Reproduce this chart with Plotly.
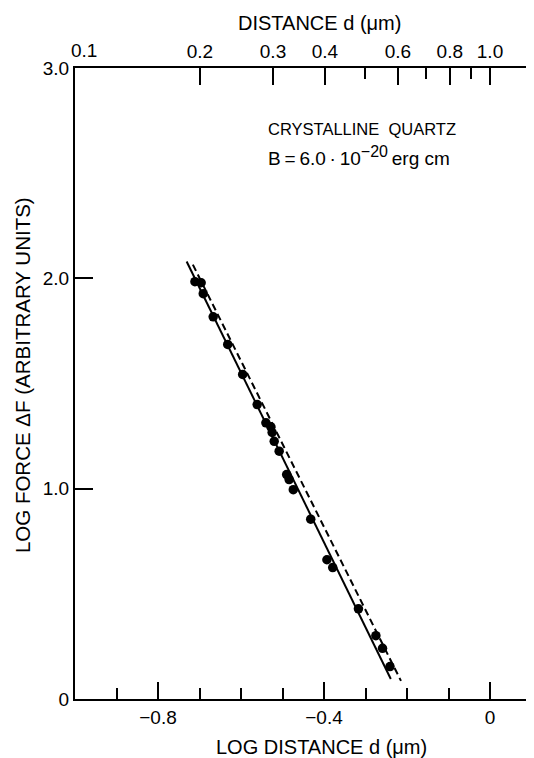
import math
import plotly.graph_objects as go

# ---- data ----
log_d = [-0.711, -0.696, -0.691, -0.667, -0.632, -0.596, -0.561, -0.540, -0.528,
         -0.525, -0.520, -0.508, -0.490, -0.484, -0.474, -0.432, -0.393, -0.379,
         -0.317, -0.275, -0.259, -0.241]
log_f = [1.984, 1.979, 1.927, 1.817, 1.686, 1.543, 1.400, 1.313, 1.294,
         1.267, 1.225, 1.178, 1.067, 1.043, 0.995, 0.855, 0.662, 0.625,
         0.429, 0.301, 0.241, 0.154]

solid_x = [-0.731, -0.239]
solid_y = [2.08, 0.095]
dashed_x = [-0.716, -0.2145]
dashed_y = [2.065, 0.086]

bottom_major = [-0.8, -0.4, 0.0]
bottom_major_text = ["\u22120.8", "\u22120.4", "0"]
bottom_minor = [-0.9, -0.7, -0.6, -0.5, -0.3, -0.2, -0.1, 0.1]

top_major = [0.2, 0.3, 0.4, 0.6, 0.8, 1.0]
top_major_text = ["0.2", "0.3", "0.4", "0.6", "0.8", "1.0"]
top_minor = [0.5, 0.7, 0.9]
top_first = 0.1
top_first_text = "0.1"
top_limits = [0.1, 1.0]

y_ticks = [0, 1, 2, 3]
y_tick_text = ["0", "1.0", "2.0", "3.0"]

FONT = "Liberation Sans, Arial, sans-serif"
X_RANGE = [-1.0, 0.106]
TICKFONT = dict(family=FONT, size=19, color="black")
TITLEFONT = dict(family=FONT, size=20, color="black")

fig = go.Figure()

fig.add_trace(go.Scatter(x=solid_x, y=solid_y, mode="lines",
                         line=dict(color="black", width=2), hoverinfo="skip"))
fig.add_trace(go.Scatter(x=dashed_x, y=dashed_y, mode="lines",
                         line=dict(color="black", width=2, dash="7px,4px"),
                         hoverinfo="skip"))
fig.add_trace(go.Scatter(x=log_d, y=log_f, mode="markers",
                         marker=dict(color="black", size=9.5)))
# invisible trace so the top (log) axis is drawn
fig.add_trace(go.Scatter(x=top_limits, y=[0, 0], xaxis="x2", mode="markers",
                         marker=dict(opacity=0), hoverinfo="skip"))

# text block
fig.add_annotation(x=-0.539, y=2.708, xref="x", yref="y", xanchor="left",
                   yanchor="middle", showarrow=False,
                   text="CRYSTALLINE&nbsp;&nbsp;QUARTZ",
                   font=dict(family=FONT, size=16.5, color="black"))
fig.add_annotation(x=-0.539, y=2.582, xref="x", yref="y", xanchor="left",
                   yanchor="middle", showarrow=False,
                   text="B\u2009=\u20096.0\u2009\u00b7\u200910"
                        "<sup><span style='font-size:16px'>\u221220</span></sup>"
                        "\u2009erg cm",
                   font=dict(family=FONT, size=19, color="black"))

# first label of the top axis (offset right of the corner, as in the reference)
fig.add_annotation(x=math.log10(top_first), y=1, xref="x2", yref="paper",
                   xanchor="left", yanchor="bottom", xshift=-6, yshift=5,
                   showarrow=False, text=top_first_text, font=TICKFONT)

# axis titles
fig.add_annotation(x=-0.406, y=0, xref="x", yref="paper", xanchor="center",
                   yanchor="middle", yshift=-48, showarrow=False,
                   text="LOG DISTANCE d (\u03bcm)", font=TITLEFONT)
fig.add_annotation(x=-0.41, y=1, xref="x", yref="paper", xanchor="center",
                   yanchor="middle", yshift=45, showarrow=False,
                   text="DISTANCE d (\u03bcm)", font=TITLEFONT)
fig.add_annotation(x=0, y=1.54, xref="paper", yref="y", xanchor="center",
                   yanchor="middle", xshift=-53, textangle=-90, showarrow=False,
                   text="LOG FORCE \u0394F (ARBITRARY UNITS)",
                   font=dict(family=FONT, size=20.5, color="black"))

# the page body adds an 8px offset, so the figure is 8px smaller than the window
fig.update_layout(
    width=526, height=750,
    margin=dict(l=67, r=0, t=60, b=59),
    paper_bgcolor="white", plot_bgcolor="white",
    showlegend=False,
    font=dict(family=FONT, size=19, color="black"),
    xaxis=dict(
        range=X_RANGE, showgrid=False, zeroline=False, automargin=False,
        showline=True, linecolor="black", linewidth=2,
        ticks="inside", tickvals=bottom_major, ticktext=bottom_major_text,
        ticklen=17, tickwidth=2, tickcolor="black",
        minor=dict(ticks="inside", tickvals=bottom_minor, ticklen=11,
                   tickwidth=2, tickcolor="black", showgrid=False),
        tickfont=TICKFONT,
    ),
    xaxis2=dict(
        type="log", range=X_RANGE, overlaying="x", side="top", anchor="y",
        showgrid=False, zeroline=False, automargin=False,
        showline=True, linecolor="black", linewidth=2,
        ticks="inside", tickvals=top_major, ticktext=top_major_text,
        ticklen=17, tickwidth=2, tickcolor="black",
        minor=dict(ticks="inside", tickvals=top_minor, ticklen=11,
                   tickwidth=2, tickcolor="black", showgrid=False),
        tickfont=TICKFONT,
    ),
    yaxis=dict(
        range=[0, 3.0], showgrid=False, zeroline=False, automargin=False,
        showline=True, linecolor="black", linewidth=2,
        ticks="inside", tickvals=y_ticks, ticktext=y_tick_text,
        ticklen=18, tickwidth=2, tickcolor="black",
        tickfont=TICKFONT,
    ),
)

fig.write_html("out.html")
